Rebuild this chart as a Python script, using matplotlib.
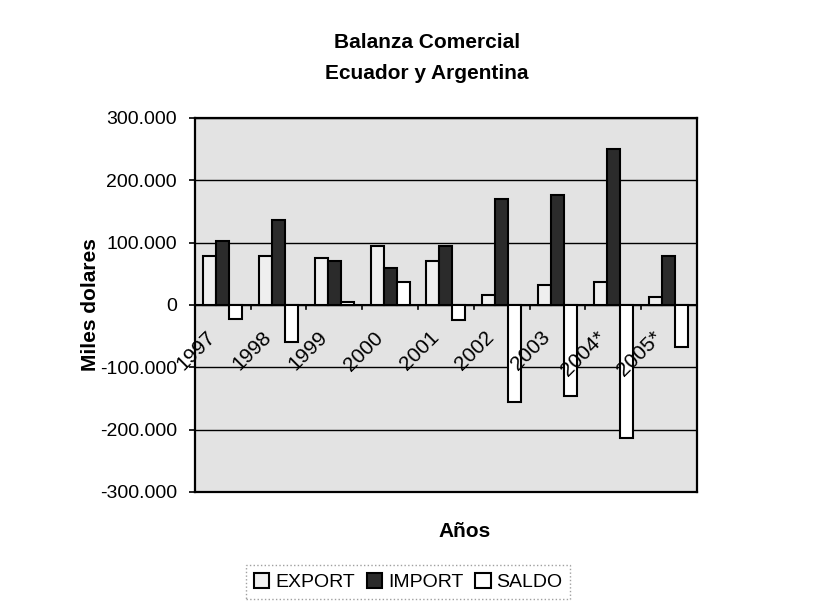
import numpy as np
import matplotlib.pyplot as plt
from matplotlib.ticker import FixedLocator, FuncFormatter
from matplotlib.transforms import offset_copy

plt.rcParams['font.family'] = ['Liberation Sans', 'DejaVu Sans']

# Data (in miles de dolares)
years = ['1997', '1998', '1999', '2000', '2001', '2002', '2003', '2004*', '2005*']
export = [79000, 79000, 75000, 94000, 71000, 16000, 32000, 36000, 13000]
imports = [102000, 137000, 71000, 59000, 95000, 170000, 177000, 250000, 79000]
saldo = [-23000, -59000, 4000, 36000, -24000, -155000, -146000, -214000, -67000]
yticks = [-300000, -200000, -100000, 0, 100000, 200000, 300000]

fig = plt.figure(figsize=(8.35, 6.05), dpi=100)
ax = fig.add_axes([0.2335, 0.187, 0.601, 0.618])
ax.set_facecolor('#e3e3e3')

x = np.arange(len(years))
w = 0.233
ax.bar(x - w, export, w, color='#efefef', edgecolor='black', linewidth=1.5, label='EXPORT', zorder=3)
ax.bar(x, imports, w, color='#2b2b2b', edgecolor='black', linewidth=1.5, label='IMPORT', zorder=3)
ax.bar(x + w, saldo, w, color='white', edgecolor='black', linewidth=1.5, label='SALDO', zorder=3)

ax.set_xlim(-0.5, len(years) - 0.5)
ax.set_ylim(-300000, 300000)
ax.yaxis.set_major_locator(FixedLocator(yticks))
ax.yaxis.set_major_formatter(FuncFormatter(lambda v, p: f'{int(v):,}'.replace(',', '.')))
ax.tick_params(axis='y', labelsize=14, length=4, width=1.2, direction='out', pad=9)
ax.tick_params(axis='x', bottom=False, labelbottom=False)
ax.grid(axis='y', color='black', linewidth=1.0, zorder=1)
ax.set_axisbelow(True)
for s in ax.spines.values():
    s.set_linewidth(1.6)

# category axis on the zero line
ax.axhline(0, color='black', linewidth=1.5, zorder=2)
for b in np.arange(len(years) + 1) - 0.5:
    ax.plot([b, b], [0, -7000], color='black', linewidth=1.2, zorder=2)
trans = offset_copy(ax.transData, fig=fig, x=-17, y=-23, units='dots')
for i, lab in enumerate(years):
    ax.text(i, 0, lab, transform=trans, rotation=45, rotation_mode='anchor',
            ha='right', va='top', fontsize=15, zorder=4)

ax.set_ylabel('Miles dolares', fontsize=15, fontweight='bold', labelpad=0)
fig.text(0.556, 0.122, 'Años', ha='center', va='center', fontsize=15, fontweight='bold')
fig.text(0.511, 0.93, 'Balanza Comercial', ha='center', va='center', fontsize=15, fontweight='bold')
fig.text(0.511, 0.878, 'Ecuador y Argentina', ha='center', va='center', fontsize=15, fontweight='bold')

leg = fig.legend(loc='center', bbox_to_anchor=(0.489, 0.038), ncol=3, fontsize=14,
                 frameon=True, fancybox=False, handlelength=0.8, handleheight=0.8,
                 handletextpad=0.3, columnspacing=0.6, borderpad=0.4)
leg.get_frame().set_edgecolor('#888888')
leg.get_frame().set_linestyle(':')
leg.get_frame().set_linewidth(1.0)

fig.savefig('out.png', dpi=100)
